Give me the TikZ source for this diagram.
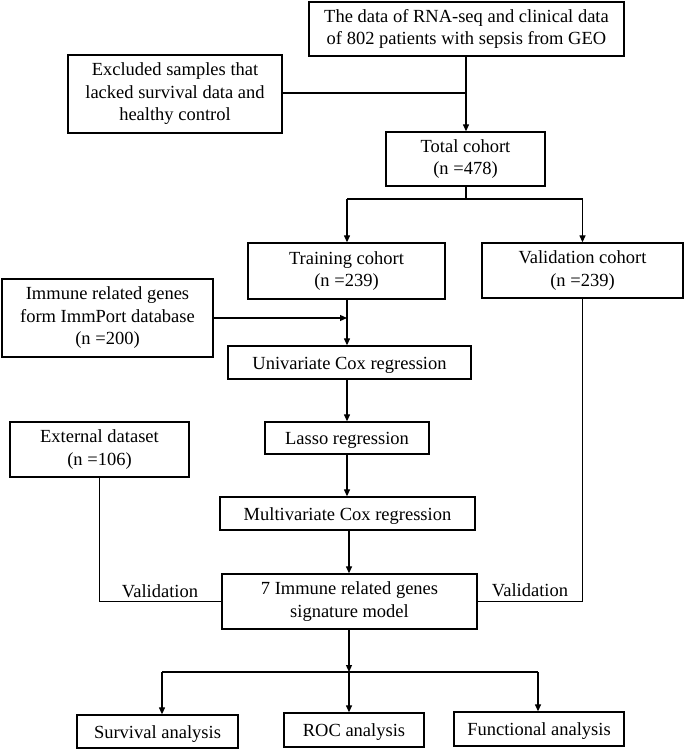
\documentclass[tikz,border=0pt]{standalone}
\usepackage{fontspec}
\setmainfont{Liberation Serif}
\usetikzlibrary{arrows.meta}
\begin{document}
\begin{tikzpicture}[x=1pt,y=-1pt,
  box/.style={draw,line width=1.3pt,inner sep=0pt,align=center,
    font=\fontsize{18.5pt}{22.5pt}\selectfont,
    execute at begin node={\rule{0pt}{18pt}},
    execute at end node={\rule[-4.2pt]{0pt}{4.2pt}}},
  conn/.style={line width=1.2pt},
  arr/.style={line width=1.2pt,-{Triangle[length=7pt,width=6pt]}},
  lbl/.style={inner sep=0pt,font=\fontsize{18.5pt}{22.5pt}\selectfont}]
\useasboundingbox (0,0) rectangle (685,749);
\node[box,minimum width=315pt,minimum height=54pt] (geo) at (466.5,29) {The data of RNA-seq and clinical data\\of 802 patients with sepsis from GEO};
\node[box,minimum width=214pt,minimum height=78pt] (excl) at (175,94) {Excluded samples that\\lacked survival data and\\healthy control};
\node[box,minimum width=159pt,minimum height=54pt] (total) at (465.5,159) {Total cohort\\(n =478)};
\node[box,minimum width=197pt,minimum height=56pt] (train) at (346.5,271) {Training cohort\\(n =239)};
\node[box,minimum width=201pt,minimum height=55pt] (valid) at (582.5,270.5) {Validation cohort\\(n =239)};
\node[box,minimum width=211pt,minimum height=78pt] (immune) at (107.5,318) {Immune related genes\\form ImmPort database\\(n =200)};
\node[box,minimum width=243pt,minimum height=33pt] (uni) at (349.5,362.5) {Univariate Cox regression};
\node[box,minimum width=164pt,minimum height=32pt] (lasso) at (347,438) {Lasso regression};
\node[box,minimum width=179pt,minimum height=55pt] (ext) at (99.5,449.5) {External dataset\\(n =106)};
\node[box,minimum width=255pt,minimum height=33pt] (multi) at (347.5,513.5) {Multivariate Cox regression};
\node[box,minimum width=255pt,minimum height=55pt] (model) at (349.5,601.5) {7 Immune related genes\\signature model};
\node[box,minimum width=161pt,minimum height=33pt] (surv) at (157.5,731.5) {Survival analysis};
\node[box,minimum width=140pt,minimum height=34pt] (roc) at (354,730) {ROC analysis};
\node[box,minimum width=170pt,minimum height=34pt] (func) at (539,729) {Functional analysis};
\node[lbl] (v1) at (160,591) {Validation};
\node[lbl] (v2) at (530,590) {Validation};
% coordinates
\coordinate (j1) at (466,93);
\coordinate (j2) at (466,199);
\coordinate (bl) at (347,199);
\coordinate (br) at (582.5,199);
\coordinate (j3) at (347,318);
\coordinate (j4) at (349,672);
\coordinate (cl) at (162,672);
\coordinate (cm) at (349,672);
\coordinate (cr) at (538,672);
\coordinate (el) at (99.5,601.5);
\coordinate (er) at (582.5,601.5);
% connectors
\draw[arr] (geo.south -| j1) -- (total.north -| j1);
\draw[conn] (excl.east |- j1) -- (j1);
\draw[conn] (total.south -| j2) -- (j2);
\draw[conn] (bl) -- (br);
\draw[arr] (bl) -- (bl |- train.north);
\draw[arr] (br) -- (valid.north);
\draw[arr] (train.south -| bl) -- (uni.north -| bl);
\draw[arr] (immune.east |- j3) -- (j3);
\draw[arr] (uni.south -| bl) -- (lasso.north -| bl);
\draw[arr] (lasso.south -| bl) -- (multi.north -| bl);
\draw[arr] (multi.south -| j4) -- (model.north -| j4);
\draw[conn] (ext.south) -- (el) -- (model.west);
\draw[conn] (valid.south) -- (er) -- (model.east);
\draw[arr] (model.south -| j4) -- (j4);
\draw[conn] (cl) -- (cr);
\draw[arr] (cl) -- (cl |- surv.north);
\draw[arr] (cm) -- (cm |- roc.north);
\draw[arr] (cr) -- (cr |- func.north);
\end{tikzpicture}
\end{document}
